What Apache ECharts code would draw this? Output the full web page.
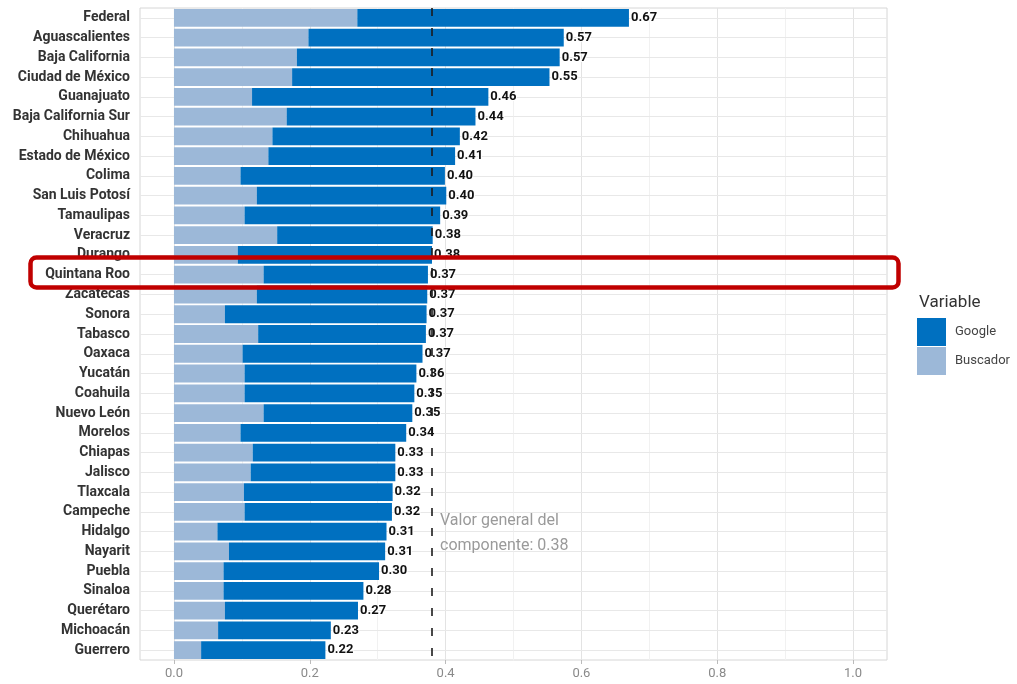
<!DOCTYPE html>
<html><head><meta charset="utf-8">
<script src="https://cdn.jsdelivr.net/npm/echarts@6/dist/echarts.min.js"></script>
<style>html,body{margin:0;padding:0;background:#fff}#c{width:1017px;height:684px}</style>
</head><body><div id="c"></div>
<script>
const categories = ["Federal","Aguascalientes","Baja California","Ciudad de México","Guanajuato","Baja California Sur","Chihuahua","Estado de México","Colima","San Luis Potosí","Tamaulipas","Veracruz","Durango","Quintana Roo","Zacatecas","Sonora","Tabasco","Oaxaca","Yucatán","Coahuila","Nuevo León","Morelos","Chiapas","Jalisco","Tlaxcala","Campeche","Hidalgo","Nayarit","Puebla","Sinaloa","Querétaro","Michoacán","Guerrero"];
const buscador = [0.27,0.198,0.181,0.174,0.115,0.166,0.145,0.139,0.098,0.122,0.104,0.152,0.094,0.132,0.122,0.075,0.124,0.101,0.104,0.104,0.132,0.098,0.116,0.113,0.103,0.104,0.064,0.081,0.073,0.073,0.075,0.065,0.040];
const google   = [0.40,0.376,0.387,0.379,0.348,0.278,0.276,0.275,0.301,0.279,0.288,0.229,0.286,0.242,0.251,0.297,0.247,0.265,0.253,0.250,0.219,0.244,0.210,0.213,0.219,0.217,0.249,0.230,0.229,0.206,0.196,0.166,0.183];
const xTicks = [0,0.2,0.4,0.6,0.8,1.0];
const xMinor = [0.1,0.3,0.5,0.7,0.9];
const overall = 0.38;

const chart = echarts.init(document.getElementById('c'));
const gridLines = [];
xTicks.forEach(v => gridLines.push({xAxis: v, lineStyle: {color: '#e3e3e3', width: 1, type: 'solid'}}));
xMinor.forEach(v => gridLines.push({xAxis: v, lineStyle: {color: '#f1f1f1', width: 1, type: 'solid'}}));
categories.forEach(c => gridLines.push({yAxis: c, lineStyle: {color: '#e8e8e8', width: 1, type: 'solid'}}));

chart.setOption({
  animation: false,
  textStyle: {fontFamily: 'Roboto'},
  grid: {left: 140, right: 130, top: 8, bottom: 24, show: true, borderColor: '#d6d6d6', borderWidth: 1, backgroundColor: '#fff'},
  title: {text: 'Variable', left: 914, top: 289, textStyle: {fontSize: 17, fontWeight: 'normal', color: '#333', fontFamily: 'Roboto'}},
  legend: {orient: 'vertical', left: 917, top: 318, itemWidth: 29, itemHeight: 28, itemGap: 1, padding: 0,
    icon: 'rect', data: ['Google','Buscador'],
    textStyle: {fontSize: 13, color: '#444', fontFamily: 'Roboto', padding: [0,0,0,4]}},
  xAxis: {type: 'value', min: -0.05, max: 1.05,
    axisLine: {show: false},
    axisTick: {show: true, customValues: xTicks, length: 4, lineStyle: {color: '#bbb'}},
    axisLabel: {customValues: xTicks, formatter: v => v.toFixed(1), color: '#8a8a8a', fontSize: 13, margin: 7},
    splitLine: {show: false}},
  yAxis: {type: 'category', data: categories, inverse: true,
    axisLine: {show: false},
    axisTick: {show: true, length: 4, alignWithLabel: true, lineStyle: {color: '#bbb'}},
    axisLabel: {color: '#333', fontSize: 14, fontWeight: 'bold', margin: 10},
    splitLine: {show: false}},
  series: [
    {name: 'grid', type: 'line', data: [], z: 1, silent: true,
      markLine: {z: 1, silent: true, symbol: 'none', label: {show: false}, animation: false, data: gridLines}},
    {name: 'Buscador', type: 'bar', stack: 'total', data: buscador, barCategoryGap: '10%',
      itemStyle: {color: '#9cb8d8'}, z: 2},
    {name: 'Google', type: 'bar', stack: 'total', data: google, barCategoryGap: '10%',
      itemStyle: {color: '#0070c0'}, z: 2,
      label: {show: true, position: 'right', distance: 2, fontSize: 13, fontWeight: 'bold', color: '#111',
        textBorderColor: '#fff', textBorderWidth: 2,
        formatter: p => (buscador[p.dataIndex] + google[p.dataIndex]).toFixed(2)}},
    {name: 'overall', type: 'line', data: [], z: 3, silent: true,
      markLine: {z: 3, silent: true, symbol: 'none', label: {show: false}, animation: false,
        lineStyle: {color: '#1a1a1a', width: 2, type: [8, 12], opacity: 0.8},
        data: [{xAxis: overall}]}}
  ],
  graphic: [
    {type: 'text', left: 440, top: 508, z: 10,
      style: {text: 'Valor general del\ncomponente: ' + overall.toFixed(2), fill: '#9a9a9a', font: '16px Roboto', lineHeight: 25}},
    {type: 'rect', z: 20, shape: {x: 30.5, y: 257.5, width: 868, height: 30, r: 6},
      style: {fill: 'none', stroke: '#c00000', lineWidth: 4.5}}
  ]
});
</script></body></html>
